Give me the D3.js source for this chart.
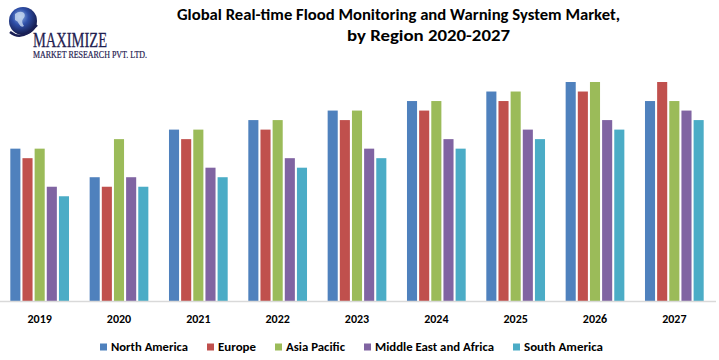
<!DOCTYPE html>
<html>
<head>
<meta charset="utf-8">
<script src="https://cdn.jsdelivr.net/npm/d3@7"></script>
<style>
  html, body { margin: 0; padding: 0; background: #fff; }
  svg { display: block; }
  text { font-family: Carlito, Lato, "Open Sans", sans-serif; }
</style>
</head>
<body>
<svg id="chart" width="719" height="360"></svg>
<script>
const years = ["2019", "2020", "2021", "2022", "2023", "2024", "2025", "2026", "2027"];
const regions = ["North America", "Europe", "Asia Pacific", "Middle East and Africa", "South America"];
const colors = ["#4F81BD", "#C0504D", "#9BBB59", "#8064A2", "#4BACC6"];
const northAmerica = [1.6, 1.3, 1.8, 1.9, 2.0, 2.1, 2.2, 2.3, 2.1];
const europe       = [1.5, 1.2, 1.7, 1.8, 1.9, 2.0, 2.1, 2.2, 2.3];
const asiaPacific  = [1.6, 1.7, 1.8, 1.9, 2.0, 2.1, 2.2, 2.3, 2.1];
const middleEast   = [1.2, 1.3, 1.4, 1.5, 1.6, 1.7, 1.8, 1.9, 2.0];
const southAmerica = [1.1, 1.2, 1.3, 1.4, 1.5, 1.6, 1.7, 1.8, 1.9];
const seriesValues = [northAmerica, europe, asiaPacific, middleEast, southAmerica];

const svg = d3.select("#chart");
const baseY = 301;

const x0 = d3.scaleBand().domain(years).range([0, 714]).paddingInner(0.26).paddingOuter(0.13);
const x1 = d3.scaleBand().domain(regions).range([0, x0.bandwidth()]).paddingInner(0.17);
const y = d3.scaleLinear().domain([0, 2.3]).range([baseY, 82]);

// Bars
const groups = svg.append("g").selectAll("g")
  .data(years)
  .join("g")
  .attr("transform", d => `translate(${x0(d)},0)`);

groups.selectAll("rect")
  .data((yr, i) => regions.map((r, k) => ({ region: r, value: seriesValues[k][i], color: colors[k] })))
  .join("rect")
  .attr("x", d => x1(d.region))
  .attr("width", x1.bandwidth())
  .attr("y", d => y(d.value))
  .attr("height", d => baseY - y(d.value))
  .attr("fill", d => d.color);

// Axis
const xAxis = d3.axisBottom(x0).tickSize(0).tickPadding(0);
const ax = svg.append("g").attr("transform", `translate(0,${baseY})`).call(xAxis);
ax.select(".domain").attr("stroke", "#D9D9D9").attr("stroke-width", 1.5).attr("d", "M0,0.5H716");
ax.selectAll(".tick text")
  .attr("y", 22)
  .attr("dy", 0)
  .attr("font-size", 12)
  .attr("font-weight", "bold")
  .attr("fill", "#000")
  .style("font-family", "Carlito, Lato, 'Open Sans', sans-serif");

// Title
svg.append("text")
  .attr("x", 177).attr("y", 19.5)
  .attr("font-size", 16.5).attr("font-weight", "bold").attr("fill", "#000")
  .attr("textLength", 443).attr("lengthAdjust", "spacingAndGlyphs")
  .text("Global Real-time Flood Monitoring and Warning System Market,");
svg.append("text")
  .attr("x", 347).attr("y", 40.5)
  .attr("font-size", 16.5).attr("font-weight", "bold").attr("fill", "#000")
  .attr("textLength", 163).attr("lengthAdjust", "spacingAndGlyphs")
  .text("by Region 2020-2027");

// Legend
const legendX = [100, 207, 275, 364, 513];
const legendW = [77, 38, 59, 119, 79];
const leg = svg.append("g");
regions.forEach((r, k) => {
  leg.append("rect").attr("x", legendX[k]).attr("y", 343.5).attr("width", 7).attr("height", 7).attr("fill", colors[k]);
  leg.append("text").attr("x", legendX[k] + 11).attr("y", 351)
    .attr("font-size", 12).attr("font-weight", "bold").attr("fill", "#000")
    .attr("textLength", legendW[k]).attr("lengthAdjust", "spacingAndGlyphs")
    .text(r);
});

// Logo
const defs = svg.append("defs");
const grad = defs.append("radialGradient").attr("id", "globe").attr("cx", "40%").attr("cy", "35%").attr("r", "65%");
grad.append("stop").attr("offset", "0%").attr("stop-color", "#8fb3e8");
grad.append("stop").attr("offset", "45%").attr("stop-color", "#2f4fa8");
grad.append("stop").attr("offset", "100%").attr("stop-color", "#141a4a");
const logo = svg.append("g");
logo.append("circle").attr("cx", 23).attr("cy", 21).attr("r", 14).attr("fill", "url(#globe)");
logo.append("path").attr("d", "M15,14 q5,-4 9,-1 q2,3 -1,6 q-2,3 1,7 q-3,2 -5,-2 q-1,-3 -4,-4 z").attr("fill", "#c8d8f0").attr("opacity", 0.8);
logo.append("path").attr("d", "M10,32 Q22,42 37,25").attr("fill", "none").attr("stroke", "#1a1f55").attr("stroke-width", 2.4);
logo.append("text").attr("x", 33).attr("y", 47)
  .attr("font-size", 20).attr("fill", "#1f2050")
  .attr("stroke", "#1f2050").attr("stroke-width", 0.3)
  .attr("textLength", 74).attr("lengthAdjust", "spacingAndGlyphs")
  .style("font-family", "'Liberation Serif', 'DejaVu Serif', serif")
  .text("MAXIMIZE");
logo.append("text").attr("x", 33).attr("y", 57.5)
  .attr("font-size", 9.5).attr("fill", "#1f2050")
  .attr("stroke", "#1f2050").attr("stroke-width", 0.2)
  .attr("textLength", 114).attr("lengthAdjust", "spacingAndGlyphs")
  .style("font-family", "'Liberation Serif', 'DejaVu Serif', serif")
  .text("MARKET RESEARCH PVT. LTD.");
</script>
</body>
</html>
